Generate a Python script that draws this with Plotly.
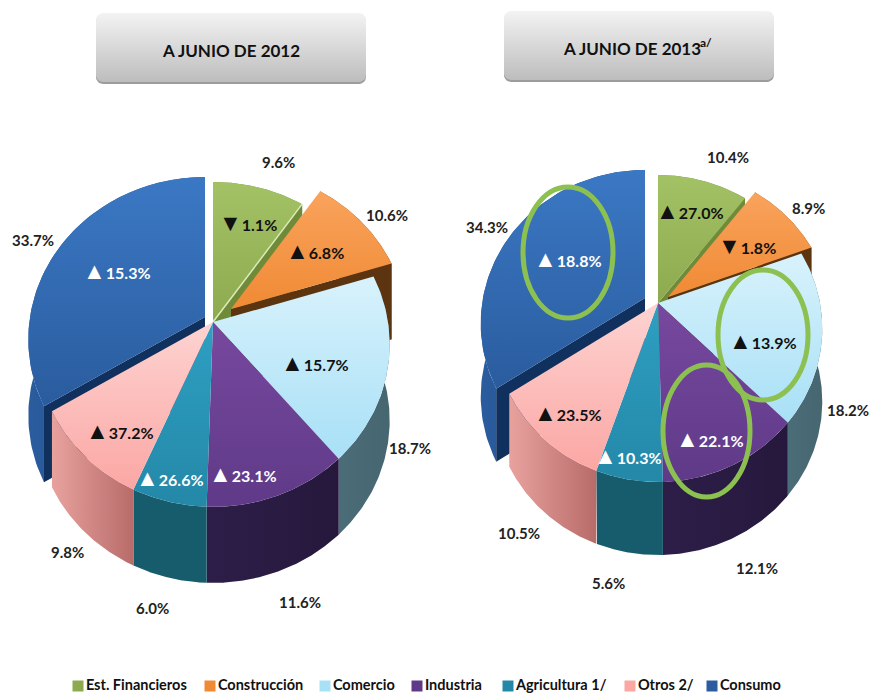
import numpy as np
import plotly.graph_objects as go

# ---------- data ----------
categories = ["Est. Financieros", "Construcción", "Comercio", "Industria", "Agricultura 1/", "Otros 2/", "Consumo"]
share_2012 = [9.6, 10.6, 18.7, 11.6, 6.0, 9.8, 33.7]
share_2013 = [10.4, 8.9, 18.2, 12.1, 5.6, 10.5, 34.3]
growth_2012 = [-1.1, 6.8, 15.7, 23.1, 26.6, 37.2, 15.3]
growth_2013 = [27.0, -1.8, 13.9, 22.1, 10.3, 23.5, 18.8]
titles = ["A JUNIO DE 2012", "A JUNIO DE 2013"]
title_note = "a/"

# ---------- styles ----------
FONT = "Lato"
top_colors = [("#a3c165", "#8dab4e"), ("#f9a35c", "#f08a35"), ("#d8f2fc", "#a8e0f6"), ("#77489f", "#5f3a88"),
              ("#2e9fc2", "#2488a8"), ("#fdd3d1", "#fba7a4"), ("#3b78c4", "#2a5c9e")]
side_colors = [("#75913f", "#75913f"), ("#8a4f1c", "#6f3f12"), ("#4b6d78", "#466670"), ("#2c1e48", "#26183c"),
               ("#175c6c", "#175c6c"), ("#e8a29e", "#b86c6a"), ("#2a5c9e", "#1f4a82")]
wall_colors = ["#6f8b3a", "#5c340f", "#3f5f68", "#261a3c", "#175c6c", "#b86c6a", "#10305e"]
text_colors = ["#111111", "#111111", "#111111", "#ffffff", "#ffffff", "#111111", "#ffffff"]

pies = [
    dict(values=share_2012, growth=growth_2012, cx=213, cy=322, A=175, B=159.4, k=0.138, depth=76,
         explode={1: (18, -13), 6: (-8, -5)}, highlight=True,
         outer=[(278, 162), (387, 215), (410, 448), (300, 602), (152, 608), (67, 552), (33, 240)],
         inner=[(248, 222), (315, 250), (315, 362), (243, 473), (170, 477), (120, 430), (117, 270)]),
    dict(values=share_2013, growth=growth_2013, cx=658, cy=303, A=162, B=149.3, k=0.166, depth=73,
         explode={1: (10, -6), 6: (-13, -5)}, highlight=False,
         outer=[(728, 157), (808, 208), (848, 410), (757, 568), (608, 583), (519, 533), (487, 227)],
         inner=[(690, 210), (747, 245), (763, 340), (710, 438), (628, 455), (568, 412), (568, 258)]),
]
header_boxes = [(96, 366, 13, 82), (504, 774, 11, 80)]
title_centers = [231, 632]
note_pos = (706, 42)
rings = [(523, 613, 187, 318), (718, 808, 270, 400), (663, 750, 365, 497)]
legend_x = [78, 210, 325, 417, 508, 630, 712]
legend_y = 686

fig = go.Figure()


def poly(x, y, c0, c1, orientation="vertical"):
    fig.add_trace(go.Scatter(
        x=x, y=y, mode="lines", line=dict(width=0), fill="toself",
        fillgradient=dict(type=orientation, colorscale=[[0, c0], [1, c1]]),
        hoverinfo="skip", showlegend=False))


def rim(p, t):
    u, v = np.sin(t), -np.cos(t)
    w = 1 - p["k"] * v
    return p["A"] * u / w, p["B"] * v / w


def draw_pie(p):
    total = sum(p["values"])
    edges = np.cumsum([0] + list(p["values"])) / total * 2 * np.pi
    order_back = [6, 0, 1]
    order_front = [2, 3, 4, 5]

    def parts(i):
        dx, dy = p["explode"].get(i, (0, 0))
        cx, cy = p["cx"] + dx, p["cy"] + dy
        t = np.linspace(edges[i], edges[i + 1], 90)
        rx, ry = rim(p, t)
        return cx, cy, cx + rx, cy + ry

    def side(i):
        _, _, x, y = parts(i)
        d = p["depth"]
        poly(list(x) + list(x[::-1]), list(y) + list(y[::-1] + d),
             side_colors[i][0], side_colors[i][1], "horizontal")

    def wall(i):
        cx, cy, x, y = parts(i)
        d = p["depth"]
        ex, ey = (x[0], y[0]) if i == 6 else (x[-1], y[-1])
        fig.add_trace(go.Scatter(
            x=[cx, ex, ex, cx, cx], y=[cy, ey, ey + d, cy + d, cy], mode="lines",
            line=dict(width=0), fill="toself", fillcolor=wall_colors[i],
            hoverinfo="skip", showlegend=False))

    def top(i):
        cx, cy, x, y = parts(i)
        poly([cx] + list(x) + [cx], [cy] + list(y) + [cy], top_colors[i][1], top_colors[i][0])

    for i in order_back:
        side(i)
        wall(i)
        top(i)
        if i == 0 and p["highlight"]:
            cx, cy, x, y = parts(0)
            fig.add_trace(go.Scatter(x=[cx, x[-1]], y=[cy, y[-1]], mode="lines",
                                     line=dict(width=1.5, color="#dcebb8"),
                                     hoverinfo="skip", showlegend=False))
    for i in order_front:
        side(i)
    for i in order_front:
        top(i)


for p in pies:
    draw_pie(p)


# header boxes
def rounded(x0, x1, y0, y1, r=7):
    a = np.linspace(0, np.pi / 2, 8)
    xs = np.concatenate([x0 + r - r * np.cos(a), x1 - r + r * np.sin(a), x1 - r + r * np.cos(a), x0 + r - r * np.sin(a)])
    ys = np.concatenate([y0 + r - r * np.sin(a), y0 + r - r * np.cos(a), y1 - r + r * np.sin(a), y1 - r + r * np.cos(a)])
    return list(xs) + [xs[0]], list(ys) + [ys[0]]


annotations = []
for (x0, x1, y0, y1), title, tx in zip(header_boxes, titles, title_centers):
    sx, sy = rounded(x0, x1, y0 + 2, y1 + 2)
    fig.add_trace(go.Scatter(x=sx, y=sy, mode="lines", line=dict(width=0), fill="toself",
                             fillcolor="#9c9c9c", hoverinfo="skip", showlegend=False))
    bx, by = rounded(x0, x1, y0, y1)
    poly(bx, by, "#bdbdbd", "#f3f3f3")
    annotations.append(dict(x=tx, y=(y0 + y1) / 2 + 3, text=f"<b>{title}</b>", showarrow=False,
                            font=dict(family=FONT, size=17, color="#111111")))
annotations.append(dict(x=note_pos[0], y=note_pos[1], text=f"<b>{title_note}</b>", showarrow=False,
                        font=dict(family=FONT, size=12, color="#111111")))

# legend
fig.add_trace(go.Scatter(
    x=legend_x, y=[legend_y] * len(legend_x), mode="markers+text", text=categories,
    textposition="middle right", hoverinfo="skip", showlegend=False,
    marker=dict(symbol="square", size=11, color=[c[1] for c in top_colors], line=dict(width=0)),
    textfont=dict(family=FONT, size=14.5, color="#111111", weight="bold")))

# labels
for p in pies:
    for i in range(len(categories)):
        annotations.append(dict(x=p["outer"][i][0], y=p["outer"][i][1], text=f"<b>{p['values'][i]:.1f}%</b>",
                                showarrow=False, font=dict(family=FONT, size=15, color="#222222")))
        g = p["growth"][i]
        mark = "▲" if g >= 0 else "▼"
        annotations.append(dict(x=p["inner"][i][0], y=p["inner"][i][1],
                                text=f"<b><span style='font-size:23px'>{mark}</span>{abs(g):.1f}%</b>",
                                showarrow=False, font=dict(family=FONT, size=16, color=text_colors[i])))

shapes = [dict(type="circle", xref="x", yref="y", x0=a, x1=b, y0=c, y1=d,
               line=dict(color="#8cc152", width=5), fillcolor="rgba(0,0,0,0)") for a, b, c, d in rings]

fig.update_layout(
    width=871, height=699, margin=dict(l=0, r=0, t=0, b=0),
    paper_bgcolor="white", plot_bgcolor="white", showlegend=False,
    xaxis=dict(range=[0, 871], visible=False, fixedrange=True),
    yaxis=dict(range=[699, 0], visible=False, fixedrange=True),
    annotations=annotations, shapes=shapes,
)
fig.write_html("out.html", config={"displayModeBar": False}, post_script="document.body.style.margin='0';")
